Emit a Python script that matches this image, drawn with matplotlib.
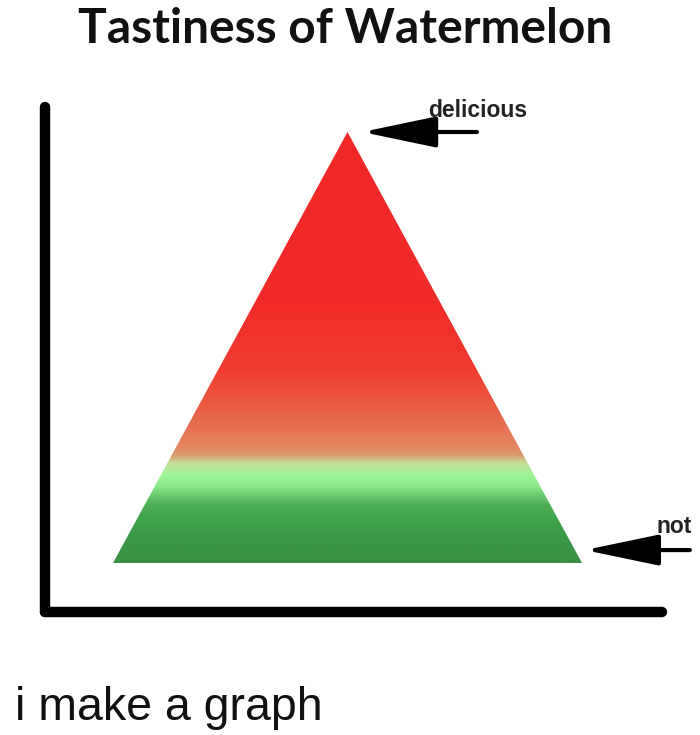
import numpy as np
import matplotlib
matplotlib.use('Agg')
import matplotlib.pyplot as plt
from matplotlib.colors import LinearSegmentedColormap
from matplotlib.patches import Polygon

# the "data": a triangle of tastiness across the watermelon slice
slice_x = [0.0, 0.5, 1.0]
tastiness = [0.0, 1.0, 0.0]
peak_label = "delicious"
low_label = "not"

# colour along the tastiness axis (rind -> flesh)
stop_pos = [0.0, 0.07, 0.135, 0.176, 0.204, 0.232, 0.248, 0.27, 0.34, 0.45, 0.6, 1.0]
stop_col = ['#3a9244', '#3a9a48', '#4cae55', '#8ae88a', '#a0f49a', '#c8dc98',
            '#d99c70', '#e4845f', '#e8664a', '#f03a30', '#f22c2a', '#f02828']


def main():
    fig = plt.figure(figsize=(7, 7.35), dpi=100)
    ax = fig.add_axes([45/700, (735-612)/735, (662-45)/700, (612-107)/735])

    cmap = LinearSegmentedColormap.from_list('melon', list(zip(stop_pos, stop_col)))
    grad = np.linspace(0, 1, 512).reshape(-1, 1)
    img = ax.imshow(grad, cmap=cmap, origin='lower', aspect='auto',
                    extent=[min(slice_x), max(slice_x), min(tastiness), max(tastiness)],
                    interpolation='bicubic')
    tri = Polygon(np.column_stack([slice_x, tastiness]), closed=True,
                  facecolor='none', edgecolor='none')
    ax.add_patch(tri)
    img.set_clip_path(tri)
    ax.set_xlim(-0.145, 1.1706)
    ax.set_ylim(-0.1137, 1.058)

    # thick hand-drawn looking axes
    for side in ['top', 'right']:
        ax.spines[side].set_visible(False)
    for side in ['left', 'bottom']:
        ax.spines[side].set_linewidth(7.5)
        ax.spines[side].set_capstyle('round')
        ax.spines[side].set_color('black')
    ax.set_xticks([])
    ax.set_yticks([])

    arrow = dict(arrowstyle='-|>,head_length=2.3,head_width=0.48', lw=3,
                 color='black', mutation_scale=20, shrinkA=0, shrinkB=0)
    lab_font = ['Liberation Sans Narrow', 'Liberation Sans']
    top = max(tastiness)
    ax.annotate('', xy=(0.531, top), xytext=(0.776, top),
                arrowprops=arrow, annotation_clip=False)
    ax.text(0.672, top + 0.034, peak_label, fontsize=16.5, fontweight='bold',
            family=lab_font, color='#222222')

    low = min(tastiness)
    ax.annotate('', xy=(1.006, low + 0.03), xytext=(1.23, low + 0.03),
                arrowprops=arrow, annotation_clip=False)
    ax.text(1.158, low + 0.07, low_label, fontsize=16.5, fontweight='bold',
            family=lab_font, color='#222222', clip_on=False)

    fig.text(345/700, (735-43)/735, "Tastiness of Watermelon", ha='center',
             va='baseline', fontsize=34.5, fontweight='bold', family=['Lato', 'DejaVu Sans'],
             color='#111111')
    fig.text(15/700, (735-720)/735, "i make a graph", ha='left', va='baseline',
             fontsize=33.5, family=['Liberation Sans', 'DejaVu Sans'], color='#111111')

    fig.savefig('out.png', dpi=100, facecolor='white')


if __name__ == "__main__":
    main()
